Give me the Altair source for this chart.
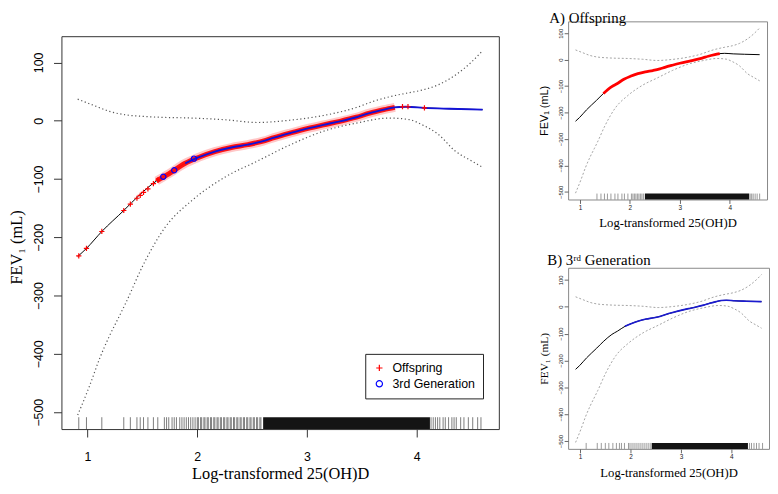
import altair as alt
import pandas as pd

# ---------------- data ----------------
fit_x = [0.91, 0.99, 1.13, 1.33, 1.47, 1.63, 1.74, 1.89, 2.01, 2.16, 2.31, 2.46, 2.60, 2.70,
         2.85, 3.00, 3.15, 3.30, 3.45, 3.57, 3.70, 3.80, 3.90, 4.07, 4.30, 4.60]
fit_y = [-233, -219, -190, -154, -128, -103, -91, -73, -63, -53, -46, -41, -35, -29,
         -21, -13.5, -7, -1, 6, 13, 19, 23, 24, 22, 20.5, 19]

ci_up_x = [0.91, 1.06, 1.20, 1.35, 1.50, 1.65, 1.95, 2.25, 2.55, 2.85, 3.15, 3.45, 3.60,
           3.75, 3.90, 4.05, 4.20, 4.35, 4.50, 4.60]
ci_up_y = [37, 26, 16, 10, 7.5, 6, 4.6, 1.7, -3, 1, 9, 22.7, 33, 41, 47, 52.6, 62, 78, 101, 120]

ci_lo_x = [0.91, 1.02, 1.11, 1.20, 1.29, 1.35, 1.50, 1.71, 1.95, 2.25, 2.55, 2.85, 3.15,
           3.45, 3.75, 3.93, 4.05, 4.20, 4.35, 4.50, 4.60]
ci_lo_y = [-505, -454, -408, -369, -335, -312, -250, -182, -137, -97, -69, -41, -18,
           -4, 4.6, 2, -7, -24, -52, -69, -80]

# markers of each cohort on the fitted curve
off_x = [0.92, 0.99, 1.13, 1.33, 1.39, 1.45, 1.48, 1.51, 1.55, 1.60, 1.64, 3.87, 3.92, 4.07]
off_y = [-232, -219, -190, -154, -143, -133, -128, -123, -117, -108, -102, 24, 24, 22]
gen_x = [1.69, 1.79, 1.97]
gen_y = [-96, -85, -65]

# rug (observed 25(OH)D values)
rug_all = [0.92, 0.99, 1.13, 1.33, 1.39, 1.45, 1.48, 1.51, 1.55, 1.60, 1.64,
           1.70, 1.72, 1.74, 1.77, 1.79, 1.81, 1.84, 1.86, 1.88, 1.90, 1.92, 1.94, 1.96, 1.98,
           2.00, 2.01, 2.03, 2.04, 2.06, 2.07, 2.09, 2.10, 2.12, 2.13, 2.15, 2.16, 2.18, 2.19,
           2.21, 2.22, 2.24, 2.25, 2.27, 2.28, 2.30, 2.31, 2.33, 2.34, 2.36, 2.37, 2.39, 2.40,
           2.42, 2.43, 2.45, 2.46, 2.48, 2.49, 2.51, 2.52, 2.54, 2.55, 2.57, 2.58,
           4.13, 4.15, 4.17, 4.19, 4.21, 4.24, 4.26, 4.29, 4.32, 4.34, 4.36, 4.40, 4.43,
           4.47, 4.51, 4.555, 4.585]
rug_all_band = [2.60, 4.12]

rug_off = [1.34, 1.42, 1.49, 1.55, 1.62, 1.70, 1.76, 1.84, 1.89, 1.96, 2.03, 2.06, 2.09,
           2.12, 2.15, 2.18, 2.21, 2.24, 2.27, 4.41, 4.44, 4.47, 4.51, 4.55, 4.60]
rug_off_band = [2.30, 4.39]

rug_gen = [1.12, 1.34, 1.42, 1.50, 1.57, 1.65, 1.72, 1.78, 1.82, 1.88, 1.96, 1.99, 2.03,
           2.07, 2.11, 2.15, 2.19, 2.23, 2.27, 2.31, 2.35, 2.39, 4.36, 4.40, 4.45, 4.50,
           4.55, 4.62]
rug_gen_band = [2.42, 4.33]

x_ticks = [1, 2, 3, 4]
y_ticks = [100, 0, -100, -200, -300, -400, -500]
x_domain = [0.762, 4.748]
y_domain = [-529, 145]

series_names = ["Offspring", "3rd Generation"]
series_colors = ["#ff0000", "#0000ff"]
series_shapes = ["M-1,0L1,0M0,-1L0,1", "circle"]

# ---------------- tables ----------------
fit_df = pd.DataFrame({"x": fit_x, "y": fit_y})
up_df = pd.DataFrame({"x": ci_up_x, "y": ci_up_y})
lo_df = pd.DataFrame({"x": ci_lo_x, "y": ci_lo_y})
pts_df = pd.DataFrame({
    "x": off_x + gen_x,
    "y": off_y + gen_y,
    "series": [series_names[0]] * len(off_x) + [series_names[1]] * len(gen_x),
})

SERIF = "Liberation Serif"
SANS = "Liberation Sans"


def panel(width, height, rug, band, x_axis, y_axis, frame_color, ci_color, ci_dash,
          ci_width, rug_len, rug_opacity, main=False, band_color=None, band_range=None,
          band_width=2.0):
    xs = alt.Scale(domain=x_domain, nice=False, zero=False)
    ys = alt.Scale(domain=y_domain, nice=False, zero=False)
    X = alt.X("x:Q", scale=xs, axis=x_axis)
    Y = alt.Y("y:Q", scale=ys, axis=y_axis)
    Xb = alt.X("x0:Q", scale=xs, axis=x_axis)

    layers = []
    layers.append(
        alt.Chart(pd.DataFrame({"x0": [band[0]], "x1": [band[1]]}))
        .mark_rect(color="black", opacity=0.92)
        .encode(x=Xb, x2="x1:Q", y=alt.value(height - rug_len), y2=alt.value(height))
    )
    layers.append(
        alt.Chart(pd.DataFrame({"x": rug}))
        .mark_rule(color="black", strokeWidth=0.8, opacity=rug_opacity)
        .encode(x=X, y=alt.value(height - rug_len), y2=alt.value(height))
    )
    for df in (up_df, lo_df):
        layers.append(
            alt.Chart(df)
            .mark_line(color=ci_color, strokeDash=ci_dash, strokeWidth=ci_width,
                       interpolate="monotone")
            .encode(x=X, y=Y)
        )
    layers.append(
        alt.Chart(fit_df)
        .mark_line(color="black", strokeWidth=1, interpolate="monotone")
        .encode(x=X, y=Y)
    )
    if main:
        layers.append(
            alt.Chart(fit_df)
            .transform_filter("datum.x >= 1.63 && datum.x <= 3.80")
            .mark_line(color="#ff0000", strokeWidth=9, opacity=0.22, interpolate="monotone")
            .encode(x=X, y=Y)
        )
        layers.append(
            alt.Chart(fit_df)
            .transform_filter("datum.x >= 1.63 && datum.x <= 3.80")
            .mark_line(color="#ff0a0a", strokeWidth=5, opacity=0.95, interpolate="monotone")
            .encode(x=X, y=Y)
        )
        layers.append(
            alt.Chart(fit_df)
            .transform_filter("datum.x >= 1.89")
            .mark_line(color="#1212d8", strokeWidth=1.9, interpolate="monotone")
            .encode(x=X, y=Y)
        )
        leg = alt.Legend(title=None, orient="none", legendX=307, legendY=321,
                         strokeColor="#222", fillColor="white", padding=8,
                         labelFont=SANS, labelFontSize=12.5, labelColor="black",
                         symbolSize=40, symbolStrokeWidth=1.2, rowPadding=3,
                         labelOffset=7, cornerRadius=0)
        layers.append(
            alt.Chart(pts_df)
            .mark_point(filled=False, size=28, strokeWidth=1.2, opacity=1)
            .encode(
                x=X, y=Y,
                color=alt.Color("series:N",
                                scale=alt.Scale(domain=series_names, range=series_colors),
                                legend=leg),
                shape=alt.Shape("series:N",
                                scale=alt.Scale(domain=series_names, range=series_shapes),
                                legend=leg),
            )
        )
    else:
        layers.append(
            alt.Chart(fit_df)
            .transform_filter(f"datum.x >= {band_range[0]} && datum.x <= {band_range[1]}")
            .mark_line(color=band_color, strokeWidth=band_width, interpolate="monotone")
            .encode(x=X, y=Y)
        )
    return alt.layer(*layers).properties(
        width=width, height=height,
        view=alt.ViewBackground(stroke=frame_color, strokeWidth=1, fill="white"),
    )


# ---------------- main panel ----------------
main_x_axis = alt.Axis(values=x_ticks, format="d", title="Log-transformed 25(OH)D",
                       domain=False, grid=False, tickSize=8, tickColor="#333",
                       labelFont=SANS, labelFontSize=12.5, labelColor="black",
                       labelPadding=14, titleFont=SERIF, titleFontSize=16.5,
                       titleFontWeight="normal", titleColor="black", titlePadding=2)
main_y_axis = alt.Axis(values=y_ticks, format="d", title="FEV₁ (mL)",
                       domain=False, grid=False, tickSize=8, tickColor="#333",
                       labelFont=SANS, labelFontSize=12.5, labelColor="black",
                       labelAngle=270, labelAlign="center", labelBaseline="bottom",
                       labelPadding=8, titleFont=SERIF, titleFontSize=16.5,
                       titleFontWeight="normal", titleColor="black", titlePadding=8,
                       titleY=213)

main = panel(442, 397, rug_all, rug_all_band, main_x_axis, main_y_axis,
             frame_color="#333", ci_color="#555", ci_dash=[1.2, 2.6], ci_width=1.2,
             rug_len=12, rug_opacity=0.65, main=True)

spacer = (
    alt.Chart(pd.DataFrame({"v": [0]}))
    .mark_point(opacity=0)
    .encode(x=alt.value(0), y=alt.value(0))
    .properties(width=10, height=14, view=alt.ViewBackground(stroke=None))
)

left_col = alt.vconcat(spacer, main, spacing=0).resolve_scale(
    color="independent", shape="independent")


# ---------------- small panels ----------------
def small_axes(y_font, y_size):
    xa = alt.Axis(values=x_ticks, format="d", title="Log-transformed 25(OH)D",
                  domain=False, grid=False, tickSize=4, tickColor="#666",
                  labelFont=SANS, labelFontSize=6.5, labelColor="#222", labelPadding=1,
                  titleFont=SERIF, titleFontSize=12.8, titleFontWeight="normal",
                  titleColor="black", titlePadding=6)
    ya = alt.Axis(values=y_ticks, format="d", title="FEV₁ (mL)",
                  domain=False, grid=False, tickSize=4, tickColor="#666",
                  labelFont=SANS, labelFontSize=6, labelColor="#222",
                  labelAngle=270, labelAlign="center", labelBaseline="bottom",
                  labelPadding=1, titleFont=y_font, titleFontSize=y_size,
                  titleFontWeight="normal", titleColor="black", titlePadding=8)
    return xa, ya


ax_a, ay_a = small_axes(SANS, 11)
ax_b, ay_b = small_axes(SERIF, 11.5)

panel_a = panel(201, 180, rug_off, rug_off_band, ax_a, ay_a, frame_color="#888",
                ci_color="#9a9a9a", ci_dash=[2, 2], ci_width=0.9, rug_len=6,
                rug_opacity=0.5, band_color="#ff0000", band_range=[1.40, 3.85],
                band_width=2.8).properties(
    title=alt.TitleParams("A) Offspring", anchor="start", dx=11, font=SERIF,
                          fontSize=15, fontWeight="normal", color="black", offset=-5))

panel_b = panel(203, 183, rug_gen, rug_gen_band, ax_b, ay_b, frame_color="#888",
                ci_color="#9a9a9a", ci_dash=[2, 2], ci_width=0.9, rug_len=6,
                rug_opacity=0.5, band_color="#1a1ad0", band_range=[1.89, 4.60],
                band_width=1.6).properties(
    title=alt.TitleParams("B) 3ʳᵈ Generation", anchor="start", dx=9, font=SERIF,
                          fontSize=15, fontWeight="normal", color="black", offset=0))

right_col = alt.vconcat(panel_a, panel_b, spacing=22)

chart = (
    alt.hconcat(left_col, right_col, spacing=38)
    .resolve_scale(color="independent", shape="independent")
    .properties(padding=0, background="white")
    .configure_view(stroke=None)
)

chart.save("out.html", embed_options={"renderer": "svg", "actions": False})
